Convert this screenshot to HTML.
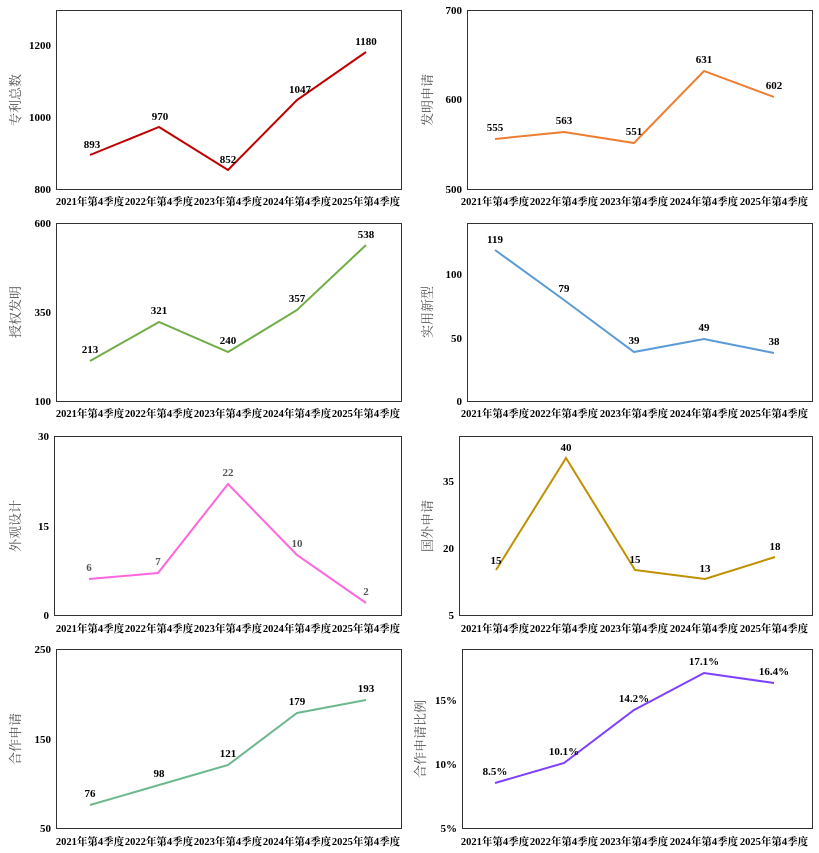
<!DOCTYPE html>
<html><head><meta charset="utf-8"><style>
body{margin:0;background:#fff}
svg{display:block}
.t{font-family:"Liberation Serif","Noto Serif CJK SC",serif;font-weight:bold;font-size:11px;fill:#000}
.x{font-family:"Liberation Serif","Noto Serif CJK SC",serif;font-weight:bold;font-size:10.5px;fill:#000;text-anchor:middle}
.v{font-family:"Liberation Serif","Noto Serif CJK SC",serif;font-weight:bold;font-size:11px;fill:#000;text-anchor:middle}
.y{font-family:"Liberation Serif","Noto Serif CJK SC",serif;font-size:13px;fill:#555;text-anchor:middle}
.f{fill:none;stroke:#333;stroke-width:1}
</style></head><body>
<svg width="819" height="853" xmlns="http://www.w3.org/2000/svg">
<!-- Panel 1 -->
<rect class="f" x="56.5" y="10.5" width="345" height="179"/>
<g class="t" text-anchor="end"><text x="51" y="49">1200</text><text x="51" y="121">1000</text><text x="51" y="193">800</text></g>
<text class="y" transform="translate(20,100) rotate(-90)">专利总数</text>
<polyline points="90,155 159,127 228,170 297,100 366,52" fill="none" stroke="#c00000" stroke-width="2"/>
<g class="v"><text x="92" y="148">893</text><text x="160" y="120">970</text><text x="228" y="163">852</text><text x="300" y="93">1047</text><text x="366" y="45">1180</text></g>
<g class="x"><text x="90" y="205">2021年第4季度</text><text x="159" y="205">2022年第4季度</text><text x="228" y="205">2023年第4季度</text><text x="297" y="205">2024年第4季度</text><text x="366" y="205">2025年第4季度</text></g>
<!-- Panel 2 -->
<rect class="f" x="467.5" y="10.5" width="345" height="179"/>
<g class="t" text-anchor="end"><text x="462" y="14">700</text><text x="462" y="103">600</text><text x="462" y="193">500</text></g>
<text class="y" transform="translate(432,100) rotate(-90)">发明申请</text>
<polyline points="495,139 564,132 634,143 704,71 774,97" fill="none" stroke="#ed7d31" stroke-width="2"/>
<g class="v"><text x="495" y="131">555</text><text x="564" y="124">563</text><text x="634" y="135">551</text><text x="704" y="63">631</text><text x="774" y="89">602</text></g>
<g class="x"><text x="495" y="205">2021年第4季度</text><text x="564" y="205">2022年第4季度</text><text x="634" y="205">2023年第4季度</text><text x="704" y="205">2024年第4季度</text><text x="774" y="205">2025年第4季度</text></g>
<!-- Panel 3 -->
<rect class="f" x="56.5" y="223.5" width="345" height="178"/>
<g class="t" text-anchor="end"><text x="51" y="227">600</text><text x="51" y="316">350</text><text x="51" y="405">100</text></g>
<text class="y" transform="translate(20,312) rotate(-90)">授权发明</text>
<polyline points="90,361 159,322 228,352 297,310 366,245" fill="none" stroke="#70ad47" stroke-width="2"/>
<g class="v"><text x="90" y="353">213</text><text x="159" y="314">321</text><text x="228" y="344">240</text><text x="297" y="302">357</text><text x="366" y="238">538</text></g>
<g class="x"><text x="90" y="417">2021年第4季度</text><text x="159" y="417">2022年第4季度</text><text x="228" y="417">2023年第4季度</text><text x="297" y="417">2024年第4季度</text><text x="366" y="417">2025年第4季度</text></g>
<!-- Panel 4 -->
<rect class="f" x="467.5" y="223.5" width="345" height="178"/>
<g class="t" text-anchor="end"><text x="462" y="278">100</text><text x="462" y="342">50</text><text x="462" y="405">0</text></g>
<text class="y" transform="translate(432,312) rotate(-90)">实用新型</text>
<polyline points="495,250 564,300 634,352 704,339 774,353" fill="none" stroke="#5b9bd5" stroke-width="2"/>
<g class="v"><text x="495" y="243">119</text><text x="564" y="292">79</text><text x="634" y="344">39</text><text x="704" y="331">49</text><text x="774" y="345">38</text></g>
<g class="x"><text x="495" y="417">2021年第4季度</text><text x="564" y="417">2022年第4季度</text><text x="634" y="417">2023年第4季度</text><text x="704" y="417">2024年第4季度</text><text x="774" y="417">2025年第4季度</text></g>
<!-- Panel 5 -->
<rect class="f" x="54.5" y="436.5" width="347" height="179"/>
<g class="t" text-anchor="end"><text x="49" y="440">30</text><text x="49" y="530">15</text><text x="49" y="619">0</text></g>
<text class="y" transform="translate(20,526) rotate(-90)">外观设计</text>
<polyline points="89,579 158,573 228,484 297,555 366,603" fill="none" stroke="#ff66dd" stroke-width="2"/>
<g class="v" style="fill:#555"><text x="89" y="571">6</text><text x="158" y="565">7</text><text x="228" y="476">22</text><text x="297" y="547">10</text><text x="366" y="595">2</text></g>
<g class="x"><text x="90" y="632">2021年第4季度</text><text x="159" y="632">2022年第4季度</text><text x="228" y="632">2023年第4季度</text><text x="297" y="632">2024年第4季度</text><text x="366" y="632">2025年第4季度</text></g>
<!-- Panel 6 -->
<rect class="f" x="459.5" y="436.5" width="353" height="179"/>
<g class="t" text-anchor="end"><text x="454" y="485">35</text><text x="454" y="552">20</text><text x="454" y="619">5</text></g>
<text class="y" transform="translate(432,526) rotate(-90)">国外申请</text>
<polyline points="496,570 566,458 635,570 705,579 775,557" fill="none" stroke="#bf9000" stroke-width="2"/>
<g class="v"><text x="496" y="564">15</text><text x="566" y="451">40</text><text x="635" y="563">15</text><text x="705" y="572">13</text><text x="775" y="550">18</text></g>
<g class="x"><text x="495" y="632">2021年第4季度</text><text x="564" y="632">2022年第4季度</text><text x="634" y="632">2023年第4季度</text><text x="704" y="632">2024年第4季度</text><text x="774" y="632">2025年第4季度</text></g>
<!-- Panel 7 -->
<rect class="f" x="56.5" y="649.5" width="345" height="179"/>
<g class="t" text-anchor="end"><text x="51" y="653">250</text><text x="51" y="743">150</text><text x="51" y="832">50</text></g>
<text class="y" transform="translate(20,739) rotate(-90)">合作申请</text>
<polyline points="90,805 159,785 228,765 297,713 366,700" fill="none" stroke="#6cb88e" stroke-width="2"/>
<g class="v"><text x="90" y="797">76</text><text x="159" y="777">98</text><text x="228" y="757">121</text><text x="297" y="705">179</text><text x="366" y="692">193</text></g>
<g class="x"><text x="90" y="845">2021年第4季度</text><text x="159" y="845">2022年第4季度</text><text x="228" y="845">2023年第4季度</text><text x="297" y="845">2024年第4季度</text><text x="366" y="845">2025年第4季度</text></g>
<!-- Panel 8 -->
<rect class="f" x="462.5" y="649.5" width="350" height="179"/>
<g class="t" text-anchor="end"><text x="457" y="704">15%</text><text x="457" y="768">10%</text><text x="457" y="832">5%</text></g>
<text class="y" transform="translate(425,739) rotate(-90)">合作申请比例</text>
<polyline points="495,783 564,763 634,710 704,673 774,683" fill="none" stroke="#7f3fff" stroke-width="2"/>
<g class="v"><text x="495" y="775">8.5%</text><text x="564" y="755">10.1%</text><text x="634" y="702">14.2%</text><text x="704" y="665">17.1%</text><text x="774" y="675">16.4%</text></g>
<g class="x"><text x="495" y="845">2021年第4季度</text><text x="564" y="845">2022年第4季度</text><text x="634" y="845">2023年第4季度</text><text x="704" y="845">2024年第4季度</text><text x="774" y="845">2025年第4季度</text></g>
</svg>
</body></html>
